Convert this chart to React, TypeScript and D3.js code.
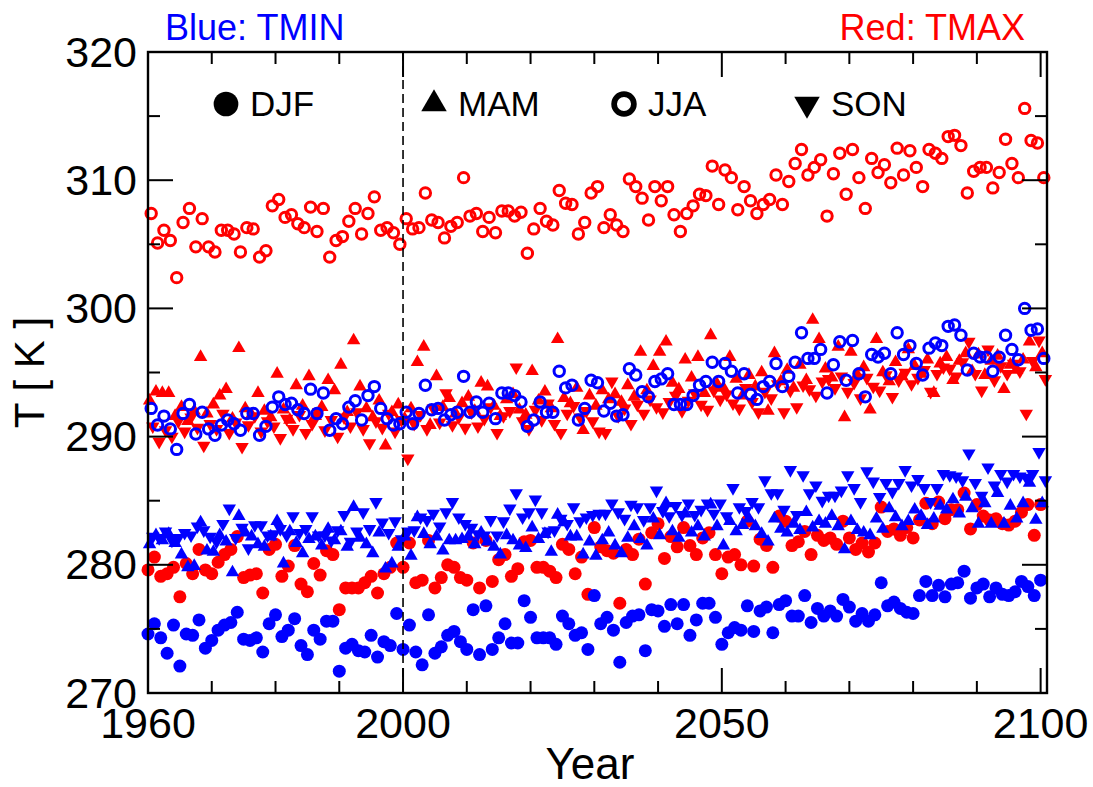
import React from "react";
import * as d3 from "d3";

// Seasonal mean near-surface temperatures [K], one value per year 1960–2100.
const years: number[] = d3.range(1960, 2101);

const tmaxDJF = [279.6,280.6,279.1,279.3,279.8,277.5,280.1,279.3,281.2,279.6,
279.3,280.2,280.8,281.2,282.2,279.0,279.2,279.3,277.8,281.2,
281.6,279.1,279.9,281.5,278.5,277.9,280.1,279.2,281.1,280.8,
276.5,278.2,278.2,278.2,278.6,279.1,277.8,279.3,279.8,281.7,
279.8,281.7,278.6,278.8,281.9,278.2,279.0,280.0,279.8,279.0,
278.8,281.7,278.2,281.9,278.7,280.4,280.8,279.1,279.7,281.8,
281.9,279.8,279.8,279.5,279.0,281.6,281.2,279.3,280.6,277.7,
282.9,281.4,281.1,280.9,277.0,281.2,280.8,282.0,278.5,282.5,
283.2,280.5,282.2,281.4,282.9,281.5,280.8,282.1,282.5,280.8,
279.3,280.6,280.8,280.0,283.4,279.9,282.0,281.5,279.8,283.8,
283.4,281.5,281.8,282.6,280.8,282.3,281.9,282.1,281.6,283.4,
282.1,281.2,281.7,281.0,281.7,284.5,282.6,282.8,282.3,282.9,
282.1,283.5,284.8,283.2,284.9,283.6,284.3,284.3,285.6,282.8,
284.7,283.8,283.5,283.6,283.2,283.1,283.4,284.1,284.7,282.3,
284.7];

const tmaxMAM = [292.8,293.5,293.4,293.4,291.6,292.3,291.2,292.0,296.2,291.8,
292.5,293.2,293.7,291.4,296.9,292.2,291.7,293.4,292.0,291.5,
294.9,292.1,291.3,294.0,292.4,294.7,291.6,292.3,294.4,293.6,
295.6,291.9,297.5,293.9,292.2,291.5,292.8,289.3,291.9,292.5,
291.4,292.2,295.8,297.0,290.9,294.7,292.3,293.0,291.8,292.6,
293.1,292.0,294.2,293.9,292.4,291.6,292.9,293.3,292.1,291.7,
295.1,292.8,293.5,292.2,297.6,293.0,292.6,293.8,290.5,293.2,
292.4,293.6,292.9,293.3,292.7,294.0,293.1,296.6,293.6,295.5,
296.6,297.4,294.2,293.7,296.0,294.6,296.2,293.4,297.9,294.1,
293.8,296.2,294.5,293.2,294.8,293.9,295.0,292.0,296.5,294.3,
295.2,293.8,295.6,294.4,299.1,297.6,295.3,294.6,297.0,291.5,
296.6,294.8,295.4,292.1,297.6,295.0,294.3,295.8,294.7,296.8,
295.5,294.9,296.0,293.4,295.7,296.2,294.4,295.9,296.5,295.1,
296.4,294.8,295.9,296.3,293.7,295.6,295.2,296.0,297.4,295.4,
296.5];

const tmaxJJA = [307.4,305.1,306.1,305.3,302.4,306.7,307.8,304.8,307.0,304.8,
304.4,306.1,306.1,305.8,304.4,306.3,306.2,304.0,304.5,308.0,
308.5,307.1,307.3,306.6,306.3,307.9,306.0,307.8,304.0,305.3,
305.6,306.8,307.8,305.8,307.4,308.7,306.1,306.3,305.9,305.0,
307.0,306.2,306.3,309.0,306.9,306.7,305.5,306.4,306.7,310.2,
307.2,307.4,306.0,307.1,305.9,307.6,307.6,307.2,307.5,304.3,
306.2,307.8,306.8,306.5,309.2,308.2,308.1,305.8,306.7,309.0,
309.5,306.3,307.3,306.5,306.0,310.1,309.5,308.6,306.9,309.5,
308.4,309.5,307.3,306.0,307.4,308.0,308.9,308.8,311.1,308.1,
310.8,310.2,307.7,309.5,308.4,307.4,308.1,308.5,310.4,308.1,
309.9,311.3,312.4,310.4,311.0,311.6,307.2,310.5,312.1,308.9,
312.4,310.2,307.8,311.7,310.6,311.2,309.8,312.5,310.4,312.3,
311.0,309.5,312.4,312.1,311.7,313.4,313.5,312.7,309.0,310.7,
311.0,311.0,309.4,310.6,313.2,311.3,310.2,315.6,313.1,312.9,
310.2];

const tmaxSON = [290.8,289.6,290.5,290.0,291.2,290.4,291.5,290.7,289.3,291.0,
290.6,291.8,290.3,291.1,289.2,290.9,291.6,290.4,291.2,290.8,
289.9,291.4,290.6,291.7,290.3,291.0,291.9,290.5,291.3,290.0,
291.5,290.8,291.9,290.6,289.5,291.2,290.7,291.8,290.4,291.3,
288.3,291.0,291.7,290.6,292.2,291.1,293.4,290.9,291.5,290.7,
291.9,290.8,291.4,292.3,290.3,291.6,292.0,295.4,291.2,290.6,
292.1,291.3,292.6,291.0,290.3,291.8,292.4,291.5,292.0,291.2,
290.4,290.3,294.3,291.6,292.2,291.0,292.5,291.8,292.9,292.3,
291.9,292.7,293.2,292.0,292.8,293.4,292.5,292.1,293.6,292.9,
293.3,292.6,292.2,293.8,292.7,291.9,293.5,293.0,294.1,291.9,
293.6,292.3,294.0,293.7,293.2,294.3,294.5,293.8,294.7,293.5,
294.2,293.0,294.6,293.9,293.6,294.8,293.1,294.4,295.0,294.1,
294.6,295.2,293.5,294.9,295.4,295.3,294.7,295.8,297.4,294.9,
293.6,296.8,294.4,295.5,294.9,295.7,295.1,291.8,295.9,297.5,
294.5];

const tminDJF = [274.6,275.4,274.3,273.1,275.3,272.1,274.6,274.5,275.7,273.5,
274.1,274.9,275.3,275.5,276.3,274.2,274.1,274.3,273.2,275.4,
276.1,274.4,274.9,275.8,273.7,273.0,274.9,274.2,275.6,275.6,
271.7,273.5,273.8,273.3,273.2,274.5,272.8,274.0,273.7,276.2,
273.4,275.3,273.2,272.2,276.1,273.1,273.6,274.5,274.8,274.0,
273.4,276.5,273.0,276.8,273.4,274.3,275.4,273.9,273.9,277.2,
275.9,274.3,274.3,274.3,273.8,276.0,275.4,274.5,274.7,273.4,
277.6,275.4,275.9,274.9,272.4,275.5,276.0,276.1,273.3,276.5,
276.4,275.2,276.9,275.4,276.9,274.5,275.7,277.0,277.0,275.9,
273.8,274.7,275.1,274.9,276.8,274.8,276.4,276.7,274.7,276.9,
277.2,276.0,276.0,277.6,275.5,276.6,276.0,276.4,276.0,277.3,
276.7,275.6,276.2,275.6,276.1,278.6,276.8,277.1,276.6,276.3,
276.2,277.6,278.7,277.6,278.4,277.5,278.5,278.6,279.5,277.4,
278.2,278.5,277.5,278.2,277.7,277.6,277.9,278.7,278.3,277.6,
278.8];

const tminMAM = [281.6,282.3,281.9,282.4,281.7,280.8,279.8,279.9,283.3,281.1,
281.0,282.3,281.8,279.4,283.8,282.5,282.2,281.6,281.4,282.2,
283.4,280.1,282.6,281.7,280.9,282.0,282.2,281.5,282.8,281.9,
282.6,281.4,284.5,282.1,281.6,280.9,282.5,279.7,280.1,281.4,
282.2,280.7,283.7,282.4,281.6,282.2,281.1,281.9,281.9,282.0,
282.2,281.6,282.5,281.8,281.4,280.8,282.3,281.9,281.5,281.3,
282.9,282.0,282.4,281.0,283.9,283.3,282.2,282.2,280.8,281.8,
280.7,281.9,282.5,281.5,280.9,282.1,283.0,282.0,281.5,283.6,
282.3,284.8,282.6,282.1,284.0,282.5,283.0,282.2,284.7,283.0,
281.5,283.4,282.6,283.1,283.6,283.0,282.4,281.8,283.6,282.8,
282.5,283.2,282.7,284.1,282.9,283.4,283.2,283.8,283.0,281.2,
283.4,282.7,282.5,282.3,283.6,282.8,284.4,283.7,283.0,283.4,
284.3,283.8,283.1,283.6,284.6,284.3,285.1,284.0,285.3,284.4,
283.2,284.8,283.2,285.6,283.2,284.6,283.6,284.8,286.4,283.5,
284.8];

const tminJJA = [292.2,290.9,291.6,290.6,289.0,291.8,292.5,290.2,291.9,290.6,
290.1,290.9,291.3,291.0,290.5,291.8,291.8,290.1,290.8,292.3,
293.1,292.5,292.6,292.1,291.8,293.7,291.8,293.4,290.5,291.4,
291.0,292.3,292.8,291.3,293.2,293.9,292.2,291.4,290.9,291.0,
291.9,291.0,291.8,294.0,292.1,292.2,291.3,291.7,291.9,294.7,
291.9,292.7,291.9,292.6,291.4,293.4,293.4,293.2,292.7,290.8,
291.3,292.7,291.9,291.9,295.1,293.8,294.0,291.3,292.2,294.4,
294.2,292.0,292.6,291.6,291.7,295.3,294.8,293.5,293.1,294.3,
294.5,294.9,292.5,292.5,292.5,293.2,294.0,294.3,295.8,294.3,
295.7,295.1,293.4,294.9,293.3,292.9,293.9,294.3,295.7,293.9,
294.7,295.8,298.1,296.1,296.1,296.8,293.4,295.6,297.4,294.4,
297.5,294.9,293.1,296.4,296.2,296.5,294.9,298.1,296.4,297.1,
295.7,294.8,296.9,297.3,297.1,298.6,298.7,297.9,295.2,296.5,
296.2,296.2,295.1,296.2,297.9,296.8,296.0,300.0,298.3,298.4,
296.1];

const tminSON = [282.2,282.1,282.6,281.9,282.1,282.5,282.3,283.0,282.7,282.2,
281.8,283.2,284.4,282.1,282.9,281.3,283.1,283.1,282.3,282.4,
282.8,282.3,283.8,282.5,282.8,283.8,282.3,282.3,281.9,282.7,
283.9,281.8,282.6,284.1,282.8,284.9,283.3,282.5,283.4,282.0,
282.6,282.7,283.7,283.5,284.0,283.0,284.1,284.9,283.7,283.2,
282.9,282.4,282.3,283.5,282.3,283.4,284.4,285.6,283.7,284.1,
285.1,284.1,282.6,282.7,283.6,283.2,284.5,283.4,283.7,283.9,
284.0,284.0,284.8,284.1,283.6,284.7,284.5,283.5,284.5,285.8,
284.2,283.8,284.6,283.9,284.8,283.9,284.3,284.8,284.0,284.8,
283.8,286.0,284.5,284.2,284.9,284.5,286.6,285.6,285.6,284.3,
287.4,283.9,287.0,285.6,286.2,285.0,285.4,285.4,285.8,287.0,
286.0,284.9,287.3,286.5,285.3,286.4,285.7,286.4,287.4,286.2,
286.7,286.0,284.9,286.0,287.1,287.0,286.9,286.6,288.7,286.4,
285.4,287.6,286.2,287.1,286.5,287.1,286.9,286.8,287.1,288.8,
286.6];

const xTicksMajor = [1960, 2000, 2050, 2100];
const xTicksMinor = d3.range(1960, 2101, 10);
const yTicksMajor = [270, 280, 290, 300, 310, 320];
const yTicksMinor = d3.range(270, 321, 5);

type Marker = "filled" | "open" | "up" | "down";
const seasons: { name: string; marker: Marker; offset: number }[] = [
  { name: "DJF", marker: "filled", offset: 0 },
  { name: "MAM", marker: "up", offset: 0.25 },
  { name: "JJA", marker: "open", offset: 0.5 },
  { name: "SON", marker: "down", offset: 0.75 },
];

const RED = "#ff0000";
const BLUE = "#0000ff";
const FONT = "'Liberation Sans', Arial, Helvetica, sans-serif";

const W = 1093;
const H = 787;
const plot = { left: 148, right: 1047, top: 52, bottom: 693 };

function MarkerShape({ kind, cx, cy, color, scale = 1 }: { kind: Marker; cx: number; cy: number; color: string; scale?: number }) {
  if (kind === "filled") return <circle cx={cx} cy={cy} r={6.5 * scale} fill={color} />;
  if (kind === "open")
    return <circle cx={cx} cy={cy} r={5.2 * scale} fill="none" stroke={color} strokeWidth={3 * scale} />;
  const path = d3.symbol(d3.symbolTriangle, 78 * scale * scale)() as string;
  const rot = kind === "down" ? 180 : 0;
  return <path d={path} transform={`translate(${cx},${cy}) rotate(${rot})`} fill={color} />;
}

export default function App() {
  const x = d3.scaleLinear().domain([1960, 2101]).range([plot.left, plot.right]);
  const y = d3.scaleLinear().domain([270, 320]).range([plot.bottom, plot.top]);

  const groups: { color: string; data: number[][] }[] = [
    { color: RED, data: [tmaxDJF, tmaxMAM, tmaxJJA, tmaxSON] },
    { color: BLUE, data: [tminDJF, tminMAM, tminJJA, tminSON] },
  ];

  const major = 25;
  const minor = 12;

  return (
    <div style={{ position: "absolute", left: 0, top: 0 }}>
      <svg width={W} height={H} viewBox={`0 0 ${W} ${H}`} style={{ display: "block", background: "#fff" }}>
        {/* data markers */}
        {groups.map((g, gi) =>
          seasons.map((s, si) => (
            <g key={`${gi}-${si}`}>
              {g.data[si].map((v, i) => (
                <MarkerShape key={i} kind={s.marker} cx={x(years[i] + s.offset)} cy={y(v)} color={g.color} />
              ))}
            </g>
          ))
        )}

        {/* year 2000 marker line */}
        <line x1={x(2000)} x2={x(2000)} y1={plot.top} y2={plot.bottom} stroke="#000" strokeWidth={1.6} strokeDasharray="9,5" />

        {/* frame */}
        <rect x={plot.left} y={plot.top} width={plot.right - plot.left} height={plot.bottom - plot.top} fill="none" stroke="#000" strokeWidth={2.4} />

        {/* x ticks, bottom and top */}
        {xTicksMinor.map((t) => {
          const len = xTicksMajor.includes(t) ? major : minor;
          return (
            <g key={`xt${t}`} stroke="#000" strokeWidth={2}>
              <line x1={x(t)} x2={x(t)} y1={plot.bottom} y2={plot.bottom - len} />
              <line x1={x(t)} x2={x(t)} y1={plot.top} y2={plot.top + len} />
            </g>
          );
        })}
        {/* y ticks, left and right */}
        {yTicksMinor.map((t) => {
          const len = yTicksMajor.includes(t) ? major : minor;
          return (
            <g key={`yt${t}`} stroke="#000" strokeWidth={2}>
              <line x1={plot.left} x2={plot.left + len} y1={y(t)} y2={y(t)} />
              <line x1={plot.right} x2={plot.right - len} y1={y(t)} y2={y(t)} />
            </g>
          );
        })}

        {/* tick labels */}
        {xTicksMajor.map((t) => (
          <text key={`xl${t}`} x={x(t)} y={738} textAnchor="middle" fontFamily={FONT} fontSize={43} fill="#000">
            {t}
          </text>
        ))}
        {yTicksMajor.map((t) => (
          <text key={`yl${t}`} x={137} y={y(t)} dy="0.34em" textAnchor="end" fontFamily={FONT} fontSize={43} fill="#000">
            {t}
          </text>
        ))}

        {/* axis titles */}
        <text x={590} y={779} textAnchor="middle" fontFamily={FONT} fontSize={44} fill="#000">
          Year
        </text>
        <text transform={`translate(44,${(plot.top + plot.bottom) / 2}) rotate(-90)`} textAnchor="middle" fontFamily={FONT} fontSize={42} fill="#000">
          T [ K ]
        </text>

        {/* header notes */}
        <text x={165} y={40} fontFamily={FONT} fontSize={36} fill={BLUE}>
          Blue: TMIN
        </text>
        <text x={1025} y={40} textAnchor="end" fontFamily={FONT} fontSize={36} fill={RED}>
          Red: TMAX
        </text>

        {/* legend */}
        {seasons.map((s, i) => {
          const lx = [226, 434, 624, 807][i];
          return (
            <g key={`lg${s.name}`}>
              <MarkerShape kind={s.marker} cx={lx} cy={104} color="#000" scale={1.9} />
              <text x={lx + 24} y={116} fontFamily={FONT} fontSize={35} fill="#000">
                {s.name}
              </text>
            </g>
          );
        })}
      </svg>
    </div>
  );
}
